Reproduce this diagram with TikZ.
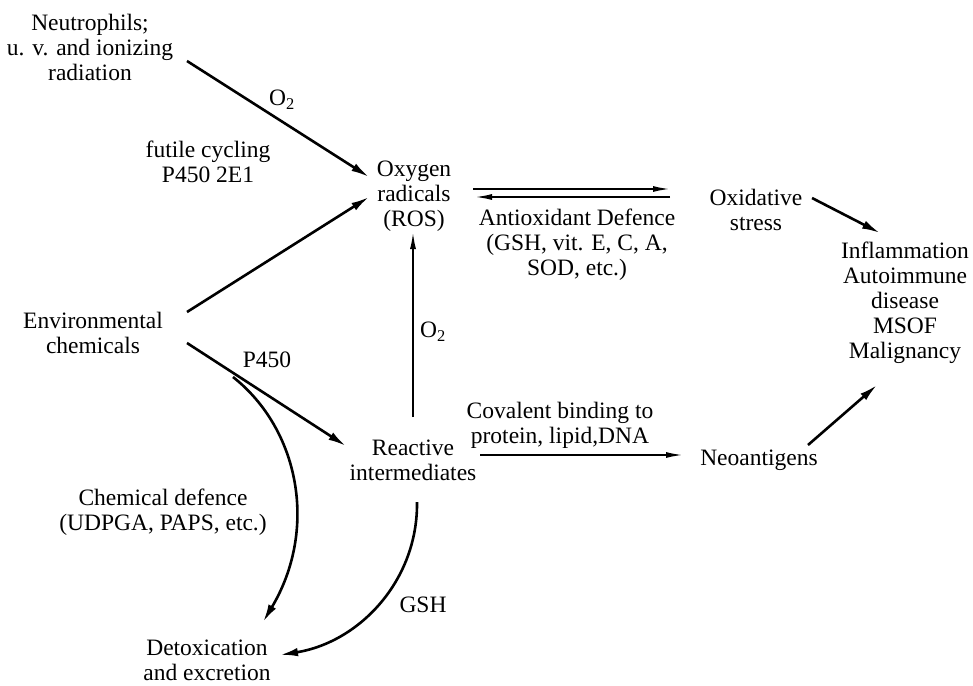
\documentclass[tikz,border=0pt]{standalone}
\usepackage{fontspec}
\setmainfont{Liberation Serif}
\usetikzlibrary{arrows.meta}
\begin{document}
\begin{tikzpicture}[x=1pt,y=-1pt,
  lbl/.style={align=center,inner sep=0pt,font=\fontsize{23.5}{25}\selectfont},
  arr/.style={line width=2.6pt,-{Latex[length=18pt,width=8.5pt]}},
  thin/.style={line width=1.8pt,-{Latex[length=17pt,width=6pt]}}]
\useasboundingbox (0,0) rectangle (973,685);
% nodes
\node[lbl] (neut) at (90,47) {Neutrophils;\\u. v. and ionizing\\radiation};
\node[lbl] (ros) at (414,196) {Oxygen\\radicals\\(ROS)};
\node[lbl] (env) at (93,333) {Environmental\\chemicals};
\node[lbl] (reac) at (413,460) {Reactive\\intermediates};
\node[lbl] (neo) at (759,460) {Neoantigens};
\node[lbl] (oxs) at (756,210) {Oxidative\\stress};
\node[lbl] (infl) at (905,303) {Inflammation\\Autoimmune\\disease\\MSOF\\Malignancy};
\node[lbl] (detox) at (207,660) {Detoxication\\and excretion};
% labels
\node[lbl] (lo2a) at (282,100) {O\textsubscript{2}};
\node[lbl] (lfut) at (208,162) {futile cycling\\P450 2E1};
\node[lbl] (lanti) at (577,245) {Antioxidant Defence\\(GSH, vit. E, C, A,\\SOD, etc.)};
\node[lbl] (lo2b) at (433,332) {O\textsubscript{2}};
\node[lbl] (lp450) at (267,360) {P450};
\node[lbl] (lcov) at (560,425) {Covalent binding to\\protein, lipid,DNA};
\node[lbl] (lchem) at (163,512) {Chemical defence\\(UDPGA, PAPS, etc.)};
\node[lbl] (lgsh) at (423,605) {GSH};
% coordinates
\coordinate (n1) at (187,61);
\coordinate (r1) at (369,177);
\coordinate (e1) at (187,312);
\coordinate (r2) at (369,197);
\coordinate (e2) at (187,343);
\coordinate (q1) at (346,446);
\coordinate (br) at (233,377);
\coordinate (d1) at (263,622);
\coordinate (rb) at (413,417);
\coordinate (rt) at (413,232);
\coordinate (ua) at (473,189);
\coordinate (ub) at (670,189);
\coordinate (la) at (670,197);
\coordinate (lb) at (475,197);
\coordinate (o1) at (812,198);
\coordinate (i1) at (880,233);
\coordinate (c1) at (480,455);
\coordinate (c2) at (683,455);
\coordinate (m1) at (808,445);
\coordinate (m2) at (877,385);
\coordinate (g1) at (417,502);
\coordinate (g2) at (280,655);
% connectors
\draw[arr] (n1) -- (r1);
\draw[arr] (e1) -- (r2);
\draw[arr] (e2) -- (q1);
\draw[arr] (br) .. controls (300,430) and (318,530) .. (d1);
\draw[thin] (rb) -- (rt);
\draw[thin] (ua) -- (ub);
\draw[thin] (la) -- (lb);
\draw[arr] (o1) -- (i1);
\draw[thin] (c1) -- (c2);
\draw[arr] (m1) -- (m2);
\draw[arr] (g1) .. controls (418,580) and (360,642) .. (g2);
\end{tikzpicture}
\end{document}
